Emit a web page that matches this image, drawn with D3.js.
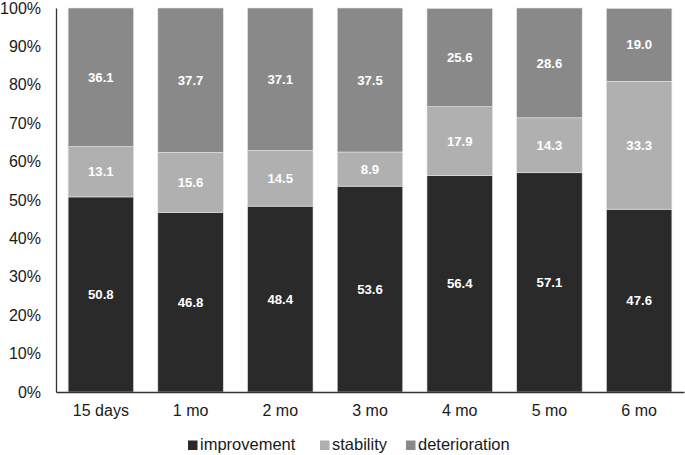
<!DOCTYPE html>
<html><head><meta charset="utf-8">
<script src="https://cdn.jsdelivr.net/npm/d3@7"></script>
<style>body{margin:0;background:#fff}svg{display:block}</style>
</head><body>
<script>
const categories = ["15 days","1 mo","2 mo","3 mo","4 mo","5 mo","6 mo"];
const improvement = [50.8,46.8,48.4,53.6,56.4,57.1,47.6];
const stability = [13.1,15.6,14.5,8.9,17.9,14.3,33.3];
const deterioration = [36.1,37.7,37.1,37.5,25.6,28.6,19.0];
const seriesNames = ["improvement","stability","deterioration"];
const yTicks = [0,10,20,30,40,50,60,70,80,90,100];

const colors = {improvement:"#2a2a2a", stability:"#b0b0b0", deterioration:"#898989"};
const W=685,H=455, m={l:56,r:1,t:8,b:63};
const svg=d3.select("body").append("svg").attr("width",W).attr("height",H)
  .style("font-family","'Liberation Sans',Arial,sans-serif");
const x=d3.scaleBand().domain(categories).range([m.l,W-m.r]).paddingInner(0.27).paddingOuter(0.135);
const y=d3.scaleLinear().domain([0,100]).range([H-m.b,m.t]);

const table=categories.map((c,i)=>({cat:c,improvement:improvement[i],stability:stability[i],deterioration:deterioration[i]}));
const stacked=d3.stack().keys(seriesNames)(table);

const g=svg.append("g");
stacked.forEach(s=>{
  g.selectAll(null).data(s).enter().append("rect")
    .attr("x",d=>x(d.data.cat)).attr("width",x.bandwidth())
    .attr("y",d=>y(Math.min(d[1],100))).attr("height",d=>y(d[0])-y(Math.min(d[1],100)))
    .attr("fill",colors[s.key]).attr("stroke","#e6e6e6").attr("stroke-width",0.6);
  g.selectAll(null).data(s).enter().append("text")
    .attr("x",d=>x(d.data.cat)+x.bandwidth()/2)
    .attr("y",d=>y((d[0]+Math.min(d[1],100))/2))
    .attr("dy","0.35em").attr("text-anchor","middle")
    .attr("fill","#fff").attr("font-weight","bold").attr("font-size","13.2px")
    .text(d=>(d[1]-d[0]).toFixed(1));
});

// y axis
const ya=svg.append("g").attr("transform",`translate(${m.l},0)`)
  .call(d3.axisLeft(y).tickValues(yTicks).tickFormat(d=>d+"%").tickSize(0).tickPadding(15));
ya.select(".domain").attr("stroke","#333").attr("stroke-width",1.3);
ya.selectAll("text").attr("font-size","16px").attr("fill","#1a1a1a").attr("font-family","'Liberation Sans',Arial,sans-serif");

// x axis
const xa=svg.append("g").attr("transform",`translate(0,${H-m.b})`)
  .call(d3.axisBottom(x).tickSize(0).tickPadding(13));
xa.select(".domain").attr("stroke","#333").attr("stroke-width",1.3);
xa.selectAll("text").attr("font-size","16px").attr("fill","#1a1a1a").attr("font-family","'Liberation Sans',Arial,sans-serif");

// legend
const legX=[188,320,406];
const leg=svg.append("g");
seriesNames.forEach((k,i)=>{
  leg.append("rect").attr("x",legX[i]).attr("y",440.5).attr("width",9.5).attr("height",9.5).attr("fill",colors[k]);
  leg.append("text").attr("x",legX[i]+12).attr("y",450).attr("font-size","16.5px").attr("fill","#1a1a1a").text(k);
});
</script>
</body></html>
